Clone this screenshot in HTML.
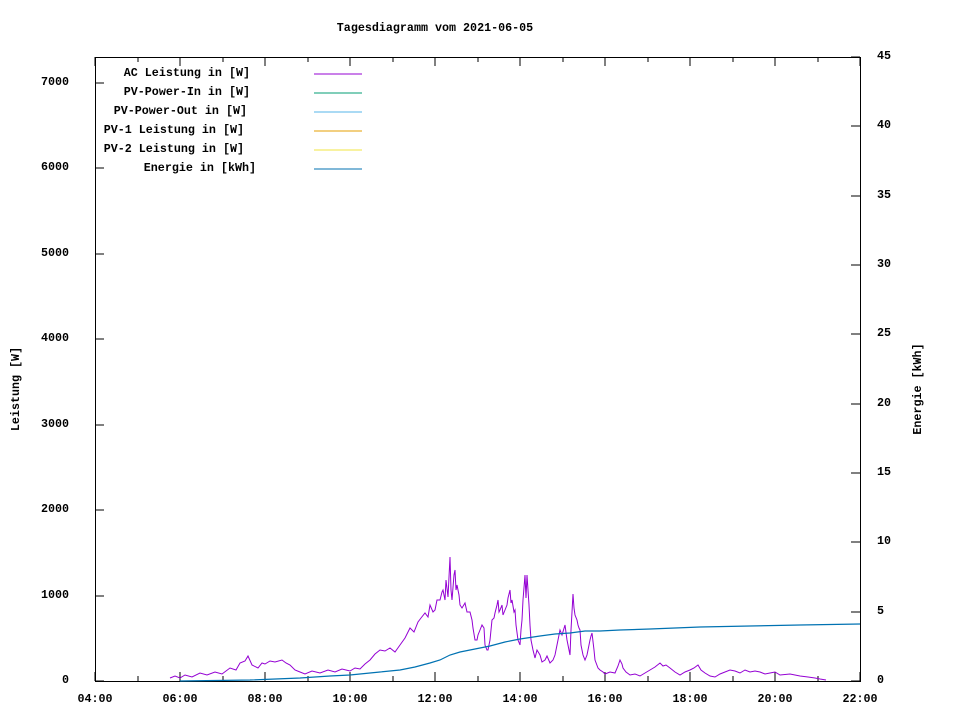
<!DOCTYPE html>
<html><head><meta charset="utf-8"><style>body{margin:0;background:#fff}svg{display:block}text{font-family:"Liberation Mono","DejaVu Sans Mono",monospace;font-size:11.7px;font-weight:bold;fill:#000}</style></head><body>
<svg width="960" height="720" xmlns="http://www.w3.org/2000/svg">
<text x="435" y="31" text-anchor="middle">Tagesdiagramm vom 2021-06-05</text>
<rect x="95.5" y="57.5" width="765" height="624" fill="none" stroke="#000"/>
<g stroke="#000">
<path d="M95 681h9M95 596h9M95 510h9M95 425h9M95 339h9M95 254h9M95 168h9M95 83h9"/>
<path d="M860 681h-9M860 612h-9M860 542h-9M860 473h-9M860 404h-9M860 334h-9M860 265h-9M860 196h-9M860 126h-9M860 57h-9"/>
<path d="M95 681v-9M138 681v-5M180 681v-9M223 681v-5M265 681v-9M308 681v-5M350 681v-9M393 681v-5M435 681v-9M478 681v-5M520 681v-9M563 681v-5M605 681v-9M648 681v-5M690 681v-9M733 681v-5M775 681v-9M818 681v-5M860 681v-9"/>
<path d="M95 57v9M138 57v5M180 57v9M223 57v5M265 57v9M308 57v5M350 57v9M393 57v5M435 57v9M478 57v5M520 57v9M563 57v5M605 57v9M648 57v5M690 57v9M733 57v5M775 57v9M818 57v5M860 57v9"/>
</g>
<g text-anchor="end">
<text x="69" y="683">0</text><text x="69" y="598">1000</text><text x="69" y="512">2000</text><text x="69" y="427">3000</text><text x="69" y="341">4000</text><text x="69" y="256">5000</text><text x="69" y="170">6000</text><text x="69" y="85">7000</text>
</g>
<g>
<text x="877" y="683">0</text><text x="877" y="614">5</text><text x="877" y="544">10</text><text x="877" y="475">15</text><text x="877" y="406">20</text><text x="877" y="336">25</text><text x="877" y="267">30</text><text x="877" y="198">35</text><text x="877" y="128">40</text><text x="877" y="59">45</text>
</g>
<g text-anchor="middle">
<text x="95" y="702">04:00</text><text x="180" y="702">06:00</text><text x="265" y="702">08:00</text><text x="350" y="702">10:00</text><text x="435" y="702">12:00</text><text x="520" y="702">14:00</text><text x="605" y="702">16:00</text><text x="690" y="702">18:00</text><text x="775" y="702">20:00</text><text x="860" y="702">22:00</text>
</g>
<text transform="translate(19,389) rotate(-90)" text-anchor="middle">Leistung [W]</text>
<text transform="translate(921,389) rotate(-90)" text-anchor="middle">Energie [kWh]</text>
<g text-anchor="end">
<text x="250" y="76">AC Leistung in [W]</text>
<text x="250" y="95">PV-Power-In in [W]</text>
<text x="247" y="114">PV-Power-Out in [W]</text>
<text x="244" y="133">PV-1 Leistung in [W]</text>
<text x="244" y="152">PV-2 Leistung in [W]</text>
<text x="256" y="171">Energie in [kWh]</text>
</g>
<path d="M314 74h48" stroke="#9400d3"/>
<path d="M314 93h48" stroke="#009e73"/>
<path d="M314 112h48" stroke="#56b4e9"/>
<path d="M314 131h48" stroke="#e69f00"/>
<path d="M314 150h48" stroke="#f0e442"/>
<path d="M314 169h48" stroke="#0072b2"/>
<polyline fill="none" stroke="#9400d3" stroke-width="1" points="170,678 175,676 180,678 185,675 192,677 200,673 207,675 215,672 222,674 230,668 236,670 240,663 245,661 248,656 252,665 258,668 262,663 265,664 270,661 275,662 282,660 286,663 290,665 295,670 300,672 305,674 312,671 320,673 328,670 335,672 342,669 350,671 355,668 360,669 365,664 370,660 375,654 380,650 385,651 390,648 395,652 400,645 405,638 410,628 414,632 418,622 421,618 425,613 428,617 430,605 433,612 435,610 437,600 440,600 442,592 443,590 445,600 446,580 448,597 450,557 451,590 452,600 454,575 455,570 456,590 457,585 459,595 460,605 462,608 465,603 467,612 470,612 472,620 473,628 475,640 477,640 478,635 480,630 482,625 484,628 485,645 487,650 488,650 490,640 492,620 494,618 495,613 497,605 498,600 499,612 500,610 502,605 503,615 505,610 507,605 508,598 510,590 511,603 512,600 514,612 515,610 516,625 518,640 520,645 521,630 522,620 523,600 525,575 526,598 527,575 528,590 529,605 530,625 531,640 533,650 535,658 537,650 540,655 542,662 545,660 547,656 550,663 553,660 555,655 557,645 560,630 562,635 565,625 567,640 570,655 571,630 573,594 574,608 575,615 577,620 578,625 579,628 580,630 581,645 583,655 585,660 587,655 588,650 589,645 590,640 591,636 592,633 594,650 595,660 598,668 600,670 603,672 605,674 610,672 615,673 618,666 620,660 622,664 623,668 626,672 630,675 635,674 640,676 645,673 650,670 655,667 660,663 663,666 666,665 670,668 675,672 680,675 685,672 690,670 694,668 698,665 701,670 705,673 710,676 715,677 720,674 725,672 730,670 735,671 740,673 745,670 750,672 755,671 760,672 765,674 770,673 775,672 780,675 790,674 800,676 808,677 815,678 820,679 826,680"/>
<polyline fill="none" stroke="#0072b2" stroke-width="1.2" points="180,681 250,680 300,678 330,676 350,675 380,672 400,670 415,667 430,663 440,660 450,655 460,652 475,649 490,646 505,642 520,639 540,636 555,634 570,633 585,631 600,631 620,630 650,629 700,627 750,626 800,625 860,624"/>
</svg>
</body></html>
